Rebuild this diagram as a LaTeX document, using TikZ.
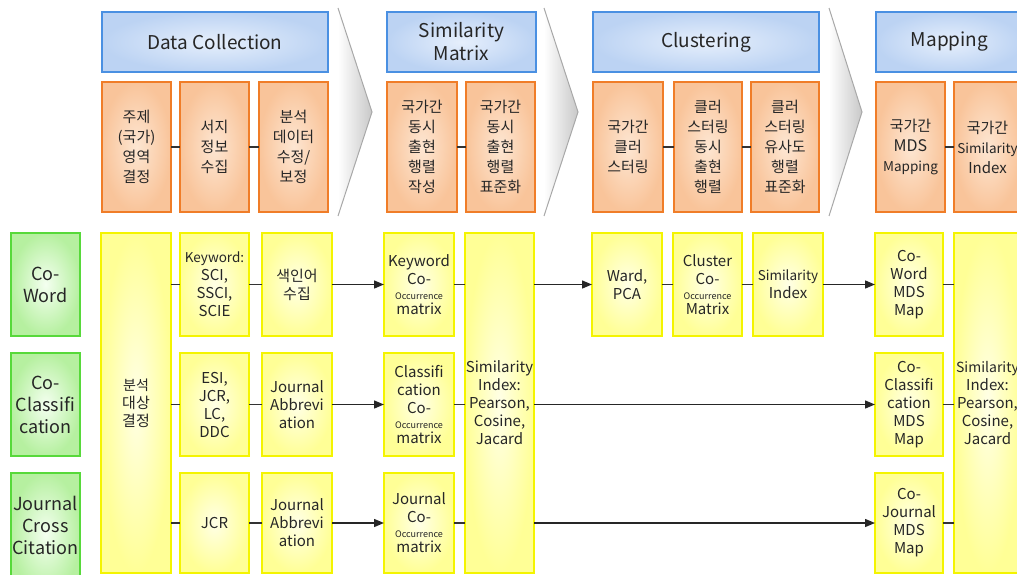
\documentclass[tikz,border=0pt]{standalone}
\usepackage{fontspec}
\setmainfont{Noto Sans CJK KR}
\usetikzlibrary{arrows.meta}
\definecolor{hdrB}{HTML}{4A90E2}
\definecolor{hdrIn}{HTML}{E6EFFC}
\definecolor{hdrOut}{HTML}{BCD3F3}
\definecolor{orB}{HTML}{F07D28}
\definecolor{orIn}{HTML}{FDE6D2}
\definecolor{orOut}{HTML}{F9C49A}
\definecolor{grB}{HTML}{57D93A}
\definecolor{grIn}{HTML}{F4FFF0}
\definecolor{grOut}{HTML}{B6F0A0}
\definecolor{ylB}{HTML}{F4F400}
\definecolor{ylIn}{HTML}{FFFFE6}
\definecolor{ylOut}{HTML}{FFFF96}
\definecolor{chevG}{HTML}{C8C8C8}
\definecolor{chevE}{HTML}{A8A8A8}
\newcommand\bx[7]{\node[#2, anchor=north west, minimum width={(#5-#3)*1pt}, minimum height={(#6-#4)*1pt}] (#1) at (#3,#4) {#7};}
\newcommand\occ{{\fontsize{9}{10}\selectfont Occurrence}}
\tikzset{
  base/.style={inner sep=0pt, outer sep=0pt, align=center, text=black!85},
  hdr/.style={base, draw=hdrB, line width=2pt, inner color=hdrIn, outer color=hdrOut, font=\fontsize{19}{23}\selectfont},
  orbox/.style={base, draw=orB, line width=2.6pt, inner color=orIn, outer color=orOut, font=\fontsize{15}{20}\selectfont},
  grbox/.style={base, draw=grB, line width=2.6pt, inner color=grIn, outer color=grOut, font=\fontsize{18}{22}\selectfont},
  ylbox/.style={base, draw=ylB, line width=2.6pt, inner color=ylIn, outer color=ylOut, font=\fontsize{15}{18}\selectfont},
  link/.style={line width=1.4pt, black!80},
  arr/.style={line width=1.4pt, black!85, -{Triangle[length=10pt,width=8pt]}},
}
\begin{document}
\begin{tikzpicture}[x=1pt,y=-1pt]
\useasboundingbox (0,0) rectangle (1017,575);
\clip (0,0) rectangle (1017,575);
% chevrons
\foreach \a/\b in {338/372, 544/578, 829/862}{
  \shade[left color=white, right color=chevG] (\a,8) -- (\b,112) -- (\a,216) -- cycle;
  \draw[chevE, line width=1pt] (\a,8) -- (\b,112) -- (\a,216);
}
% headers
\bx{h1}{hdr}{102}{12}{328}{72}{Data Collection}
\bx{h2}{hdr}{387}{12}{536}{72}{Similarity\\Matrix}
\bx{h3}{hdr}{593}{12}{819}{72}{Clustering}
\bx{h4}{hdr}{876}{12}{1023}{72}{Mapping}
% orange
\bx{o1}{orbox}{102}{82}{171}{212}{주제\\(국가)\\영역\\결정}
\bx{o2}{orbox}{180}{82}{249}{212}{서지\\정보\\수집}
\bx{o3}{orbox}{259}{82}{328}{212}{분석\\데이터\\수정/\\보정}
\bx{o4}{orbox}{387}{82}{457}{212}{국가간\\동시\\출현\\행렬\\작성}
\bx{o5}{orbox}{466}{82}{535}{212}{국가간\\동시\\출현\\행렬\\표준화}
\bx{o6}{orbox}{593}{82}{663}{212}{국가간\\클러\\스터링}
\bx{o7}{orbox}{674}{82}{742}{212}{클러\\스터링\\동시\\출현\\행렬}
\bx{o8}{orbox}{751}{82}{819}{212}{클러\\스터링\\유사도\\행렬\\표준화}
\bx{o9}{orbox}{876}{82}{945}{212}{국가간\\{\fontsize{16}{18}\selectfont MDS}\\{\fontsize{13.5}{18}\selectfont Mapping}}
\bx{o10}{orbox}{954}{82}{1021}{212}{국가간\\{\fontsize{13.5}{18}\selectfont Similarity}\\{\fontsize{15}{18}\selectfont Index}}
\foreach \p/\q in {o1/o2, o2/o3, o4/o5, o6/o7, o7/o8, o9/o10}{\draw[link] (\p.east) -- (\q.west);}
% green
\bx{g1}{grbox}{11}{233}{80}{336}{Co-\\Word}
\bx{g2}{grbox}{11}{353}{80}{456}{Co-\\Classifi\\cation}
\bx{g3}{grbox}{11}{473}{80}{595}{}
\node[base, font=\fontsize{18}{22}\selectfont] (g3t) at (45.5,525) {Journal\\Cross\\Citation};
% yellow
\bx{y0}{ylbox}{101}{233}{171}{573}{\fontsize{14}{20}\selectfont 분석\\대상\\결정}
\bx{kw}{ylbox}{180}{233}{249}{336}{{\fontsize{13.5}{16}\selectfont Keyword:}\\SCI,\\SSCI,\\SCIE}
\bx{sx}{ylbox}{262}{233}{332}{336}{\fontsize{15}{20}\selectfont 색인어\\수집}
\bx{kco}{ylbox}{384}{233}{454}{336}{Keyword\\Co-\\[-3pt]\occ\\[-3pt]matrix}
\bx{simA}{ylbox}{465}{233}{534}{573}{Similarity\\Index:\\Pearson,\\Cosine,\\Jacard}
\bx{ward}{ylbox}{592}{233}{662}{336}{Ward,\\PCA}
\bx{clu}{ylbox}{673}{233}{742}{336}{Cluster\\Co-\\[-3pt]\occ\\[-3pt]Matrix}
\bx{sidx}{ylbox}{753}{233}{823}{336}{\fontsize{13.5}{17}\selectfont Similarity\\Index}
\bx{mds1}{ylbox}{875}{233}{943}{336}{Co-\\Word\\MDS\\Map}
\bx{simB}{ylbox}{954}{233}{1021}{573}{\fontsize{14}{18}\selectfont Similarity\\Index:\\Pearson,\\Cosine,\\Jacard}
\bx{esi}{ylbox}{180}{353}{249}{456}{ESI,\\JCR,\\LC,\\DDC}
\bx{ja2}{ylbox}{262}{353}{332}{456}{Journal\\Abbrevi\\ation}
\bx{cco}{ylbox}{384}{353}{454}{456}{Classifi\\cation\\Co-\\[-3pt]\occ\\[-3pt]matrix}
\bx{mds2}{ylbox}{875}{353}{943}{456}{Co-\\Classifi\\cation\\MDS\\Map}
\bx{jcr}{ylbox}{180}{473}{249}{573}{JCR}
\bx{ja3}{ylbox}{262}{473}{332}{573}{Journal\\Abbrevi\\ation}
\bx{jco}{ylbox}{384}{473}{454}{573}{Journal\\Co-\\[-3pt]\occ\\[-3pt]matrix}
\bx{mds3}{ylbox}{875}{473}{943}{573}{Co-\\Journal\\MDS\\Map}
% dashes
\foreach \r in {kw, esi, jcr}{\draw[link] (y0.east |- \r.west) -- (\r.west);}
\foreach \p/\q in {kw/sx, esi/ja2, jcr/ja3, ward/clu, clu/sidx}{\draw[link] (\p.east) -- (\q.west);}
\foreach \r in {kco, cco, jco}{\draw[link] (\r.east) -- (simA.west |- \r.east);}
\foreach \r in {mds1, mds2, mds3}{\draw[link] (\r.east) -- (simB.west |- \r.east);}
% arrows
\foreach \p/\q in {sx/kco, ja2/cco, ja3/jco, sidx/mds1}{\draw[arr] (\p.east) -- (\q.west);}
\draw[arr] (simA.east |- ward.west) -- (ward.west);
\draw[arr] (simA.east |- mds2.west) -- (mds2.west);
\draw[arr] (simA.east |- mds3.west) -- (mds3.west);
\end{tikzpicture}
\end{document}
